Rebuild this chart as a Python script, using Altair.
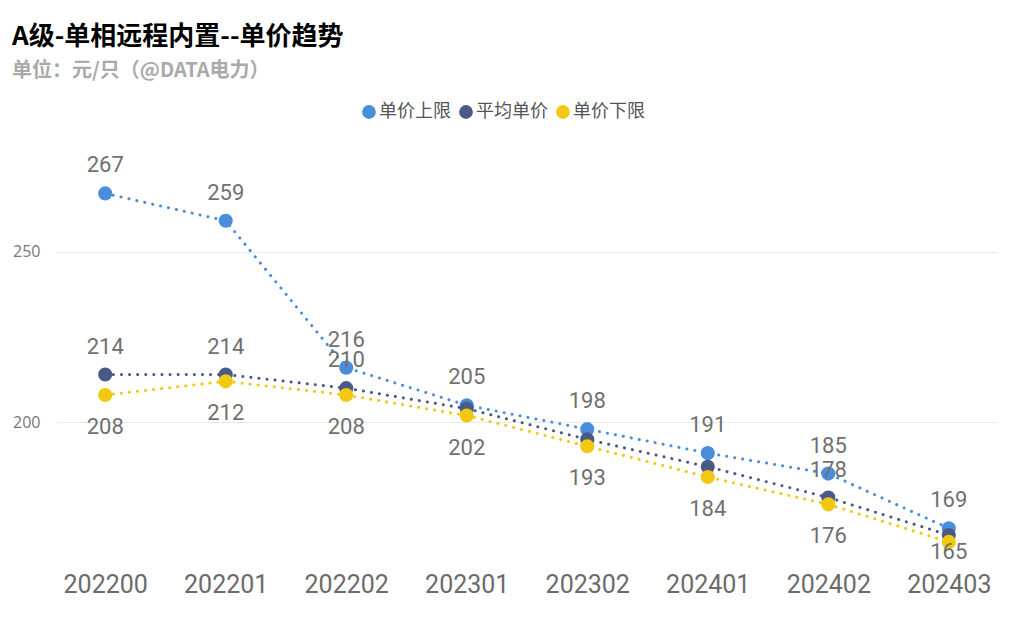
import altair as alt
import pandas as pd

periods = ["202200", "202201", "202202", "202301", "202302", "202401", "202402", "202403"]
upper = [267, 259, 216, 205, 198, 191, 185, 169]
avg = [214, 214, 210, 204, 195, 187, 178, 167]
lower = [208, 212, 208, 202, 193, 184, 176, 165]
series = ["单价上限", "平均单价", "单价下限"]
colors = ["#4A8DDC", "#4A5A86", "#F2C811"]
avg_label_periods = ["202200", "202201", "202202", "202402"]

rows = []
for s, vals in zip(series, [upper, avg, lower]):
    for p, v in zip(periods, vals):
        show = (s != "平均单价") or (p in avg_label_periods)
        rows.append({"period": p, "series": s, "value": v, "show": show,
                     "pos": "below" if s == "单价下限" else "above"})
df = pd.DataFrame(rows)

NUM_FONT = "Roboto"
CJK = "Noto Sans CJK SC"
Y_MIN, Y_MAX = 160, 280

x = alt.X("period:O", sort=periods, scale=alt.Scale(type="point", padding=0.4),
          axis=alt.Axis(title=None, labelAngle=0, labelFontSize=25, labelColor="#6b6b6b",
                        labelFont=NUM_FONT, labelPadding=13, domain=False, ticks=False, grid=False))
y = alt.Y("value:Q", scale=alt.Scale(domain=[Y_MIN, Y_MAX], nice=False, zero=False),
          axis=alt.Axis(title=None, values=[200, 250], labelFontSize=16, labelColor="#777777",
                        labelFont="Open Sans", labelPadding=17, domain=False, ticks=False,
                        grid=True, gridColor="#e9e9e9", gridWidth=1))

color_scale = alt.Scale(domain=series, range=colors)
base = alt.Chart(df)

lines = base.mark_line(strokeDash=[0.1, 8], strokeCap="round", strokeWidth=3).encode(
    x=x, y=y,
    color=alt.Color("series:N", scale=color_scale, legend=None),
)

points = base.mark_circle(size=200, opacity=1).encode(
    x=x, y=y,
    color=alt.Color("series:N", scale=color_scale,
                    legend=alt.Legend(title=None, orient="none", legendX=303, legendY=-46,
                                      direction="horizontal", symbolType="circle", symbolSize=190,
                                      symbolStrokeWidth=0, labelFontSize=18, labelColor="#555555",
                                      labelFont=CJK, labelOffset=1, columnPadding=6)),
)

labels_above = base.transform_filter("datum.show && datum.pos == 'above'").mark_text(
    dy=-28, fontSize=22, font=NUM_FONT, color="#707070", baseline="middle").encode(
    x=x, y=y, text="value:Q")

labels_below = base.transform_filter(
    "datum.show && datum.pos == 'below' && datum.value >= 170").mark_text(
    dy=32, fontSize=22, font=NUM_FONT, color="#707070", baseline="middle").encode(
    x=x, y=y, text="value:Q")

labels_below_clamped = base.transform_filter(
    "datum.show && datum.pos == 'below' && datum.value < 170").mark_text(
    dy=10, fontSize=22, font=NUM_FONT, color="#707070", baseline="middle").encode(
    x=x, y=y, text="value:Q")

chart = alt.layer(lines, points, labels_above, labels_below, labels_below_clamped).resolve_legend(
    color="independent"
).properties(
    width=940, height=410,
    autosize=alt.AutoSizeParams(type="none"),
    padding={"left": 49, "top": 141, "right": 7, "bottom": 53},
    background="#ffffff",
    title=alt.Title(text="A级-单相远程内置--单价趋势", subtitle="单位：元/只（@DATA电力）",
                    anchor="start", frame="group", dx=-45, font=CJK, fontSize=26, fontWeight="bold",
                    color="#000000", subtitleFont=CJK, subtitleFontSize=20, subtitleFontWeight="bold",
                    subtitleColor="#aaaaaa", subtitlePadding=11, offset=22),
).configure_view(stroke=None)

chart.save("out.html", embed_options={"renderer": "svg", "actions": False})
